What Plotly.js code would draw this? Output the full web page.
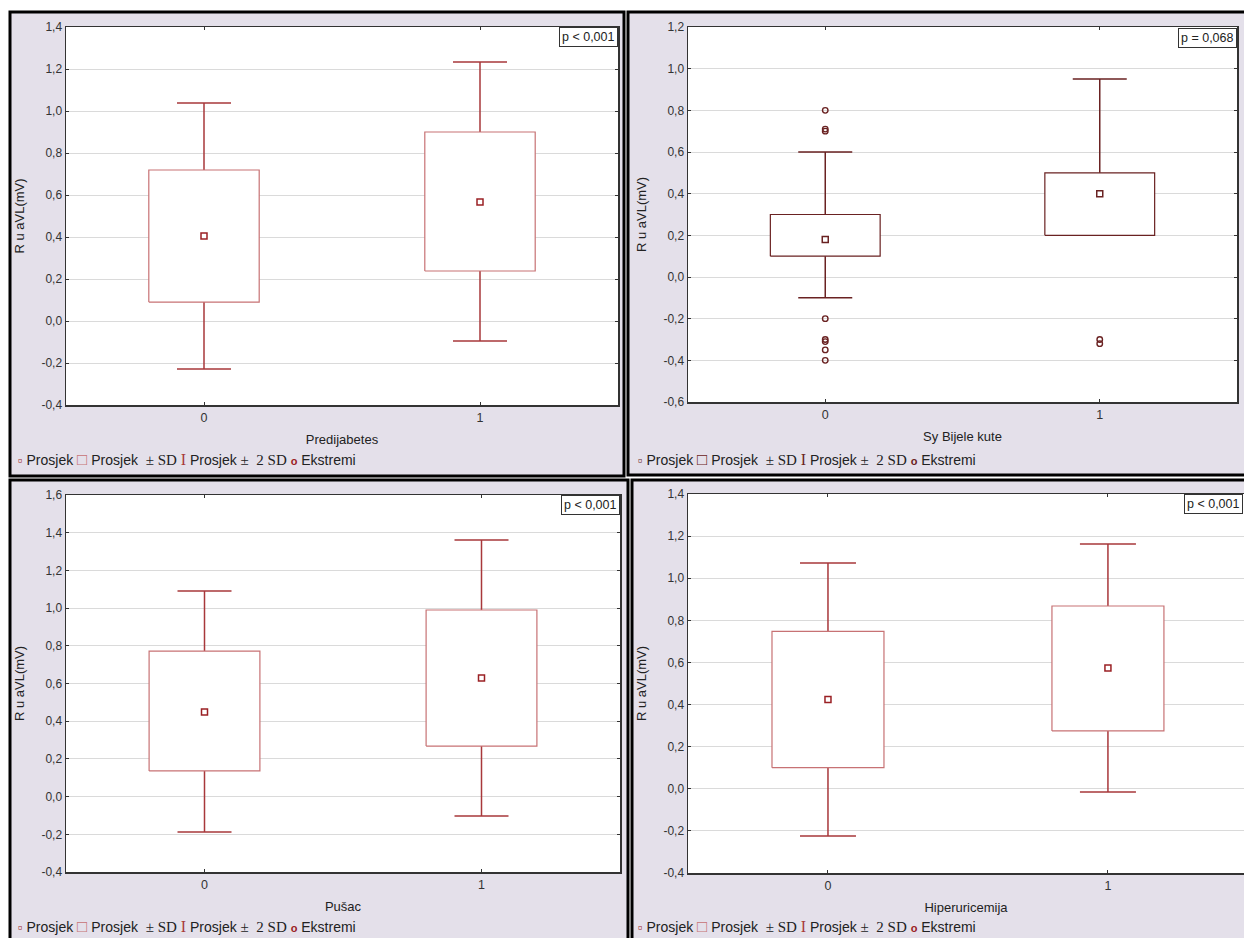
<!DOCTYPE html>
<html>
<head>
<meta charset="utf-8">
<script src="https://cdn.plot.ly/plotly-3.0.1.min.js"></script>
<style>html,body{margin:0;padding:0;background:#fff;}#chart{width:1244px;height:938px;}</style>
</head>
<body>
<div id="chart"></div>
<script>
// ---------------- DATA ----------------
const groups = [0, 1];
const groupLabels = ['0', '1'];

// Panel 1: Predijabetes
const p1Mean   = [0.405, 0.567];
const p1BoxLo  = [0.090, 0.238];
const p1BoxHi  = [0.719, 0.900];
const p1WhLo   = [-0.229, -0.095];
const p1WhHi   = [1.038, 1.233];

// Panel 2: Sy Bijele kute
const p2Mean   = [0.18, 0.40];
const p2BoxLo  = [0.10, 0.20];
const p2BoxHi  = [0.30, 0.50];
const p2WhLo   = [-0.10, 0.20];
const p2WhHi   = [0.60, 0.95];
const p2OutX   = [0, 0, 0, 0, 0, 0, 0, 0, 1, 1];
const p2OutY   = [0.80, 0.71, 0.70, -0.20, -0.30, -0.31, -0.35, -0.40, -0.30, -0.32];

// Panel 3: Pušac
const p3Mean   = [0.449, 0.629];
const p3BoxLo  = [0.136, 0.268];
const p3BoxHi  = [0.772, 0.990];
const p3WhLo   = [-0.188, -0.103];
const p3WhHi   = [1.091, 1.361];

// Panel 4: Hiperuricemija
const p4Mean   = [0.424, 0.574];
const p4BoxLo  = [0.100, 0.275];
const p4BoxHi  = [0.748, 0.868];
const p4WhLo   = [-0.224, -0.015];
const p4WhHi   = [1.072, 1.163];

const yTicks1 = [-0.4, -0.2, 0.0, 0.2, 0.4, 0.6, 0.8, 1.0, 1.2, 1.4];
const yTicks2 = [-0.6, -0.4, -0.2, 0.0, 0.2, 0.4, 0.6, 0.8, 1.0, 1.2];
const yTicks3 = [-0.4, -0.2, 0.0, 0.2, 0.4, 0.6, 0.8, 1.0, 1.2, 1.4, 1.6];
const yTicks4 = [-0.4, -0.2, 0.0, 0.2, 0.4, 0.6, 0.8, 1.0, 1.2, 1.4];

const xTitles = ['Predijabetes', 'Sy Bijele kute', 'Pušac', 'Hiperuricemija'];
const yTitle = 'R u aVL(mV)';
const pTexts = ['p < 0,001', 'p = 0,068', 'p < 0,001', 'p < 0,001'];

// ---------------- LAYOUT HELPERS ----------------
const W = 1244, H = 938;
const fx = v => v / W;
const fy = v => 1 - v / H;
const FONT = 'Liberation Sans, Arial, sans-serif';
const fmt = v => v.toFixed(1).replace('.', ',');

const panels = [
  {frame:[10,12,624,476], plot:[66,27,618,405], xr:[-0.5,1.5], yr:[-0.4,1.4], ticks:yTicks1,
   d:{m:p1Mean,lo:p1BoxLo,hi:p1BoxHi,wl:p1WhLo,wh:p1WhHi}, whColor:'#a8383b', boxColor:'#c77274', meanColor:'#9a2024',
   capW:27, legX:16, legY:460, p:[618,27], mirrorY:'ticks'},
  {frame:[628,12,1260,475], plot:[688,27,1237,402], xr:[-0.5,1.5], yr:[-0.6,1.2], ticks:yTicks2,
   d:{m:p2Mean,lo:p2BoxLo,hi:p2BoxHi,wl:p2WhLo,wh:p2WhHi}, whColor:'#6a2222', boxColor:'#6a2222', meanColor:'#6a2222',
   capW:27, legX:636, legY:459, p:[1237,28], mirrorY:'ticks', outX:p2OutX, outY:p2OutY},
  {frame:[10,480,628,950], plot:[66,495,620,872], xr:[-0.5,1.5], yr:[-0.4,1.6], ticks:yTicks3,
   d:{m:p3Mean,lo:p3BoxLo,hi:p3BoxHi,wl:p3WhLo,wh:p3WhHi}, whColor:'#a8383b', boxColor:'#c77274', meanColor:'#9a2024',
   capW:27, legX:16, legY:926, p:[620,495], mirrorY:'ticks'},
  {frame:[632,480,1260,950], plot:[688,494,1244,873], xr:[-0.5,1.486], yr:[-0.4,1.4], ticks:yTicks4,
   d:{m:p4Mean,lo:p4BoxLo,hi:p4BoxHi,wl:p4WhLo,wh:p4WhHi}, whColor:'#a8383b', boxColor:'#c77274', meanColor:'#9a2024',
   capW:28, legX:636, legY:926, p:[1243,494], mirrorY:false}
];

const traces = [];
const shapes = [];
const annotations = [];
const layout = {
  width: W, height: H,
  margin: {l:0, r:0, t:0, b:0},
  paper_bgcolor: '#ffffff',
  plot_bgcolor: '#ffffff',
  showlegend: false,
  hovermode: false,
  separators: ', ',
  font: {family: FONT, size: 12, color: '#333'}
};

const NB = '&nbsp;';

panels.forEach((P, i) => {
  const n = i + 1;
  const xa = 'x' + (n === 1 ? '' : n), ya = 'y' + (n === 1 ? '' : n);
  const xKey = 'xaxis' + (n === 1 ? '' : n), yKey = 'yaxis' + (n === 1 ? '' : n);

  // panel background + frame
  shapes.push({type:'rect', xref:'paper', yref:'paper', layer:'below',
    x0:fx(P.frame[0]), x1:fx(P.frame[2]), y0:fy(P.frame[3]), y1:fy(P.frame[1]),
    fillcolor:'#e4e0ea', line:{color:'#000', width:3}});
  // white plotting area
  shapes.push({type:'rect', xref:'paper', yref:'paper', layer:'below',
    x0:fx(P.plot[0]), x1:fx(P.plot[2]), y0:fy(P.plot[3]), y1:fy(P.plot[1]),
    fillcolor:'#ffffff', line:{width:0}});

  layout[xKey] = {
    domain:[fx(P.plot[0]), Math.min(1, fx(P.plot[2]))], range:P.xr, anchor:ya,
    tickvals:groups, ticktext:groupLabels, ticks:'inside', ticklen:3, tickcolor:'#333',
    showline:true, linecolor:'#333', linewidth:1.5, mirror:'ticks', showgrid:false, zeroline:false,
    tickfont:{family:FONT, size:12.5, color:'#333'},
    title:{text:xTitles[i], font:{family:FONT, size:13, color:'#222'}, standoff:11}
  };
  layout[yKey] = {
    domain:[fy(P.plot[3]), fy(P.plot[1])], range:P.yr, anchor:xa,
    tickvals:P.ticks, ticktext:P.ticks.map(fmt), ticks:'inside', ticklen:3, tickcolor:'#333',
    showline:true, linecolor:'#333', linewidth:1.5, mirror:P.mirrorY, showgrid:true, gridcolor:'#dadada', gridwidth:1,
    zeroline:false, tickfont:{family:FONT, size:12, color:'#333'},
    title:{text:yTitle, font:{family:FONT, size:13, color:'#222'}, standoff:14}
  };

  const d = P.d;
  // whiskers (mean ± 2 SD) as error bars
  traces.push({type:'scatter', mode:'markers', x:groups, y:d.m, xaxis:xa, yaxis:ya,
    marker:{size:2, color:'rgba(0,0,0,0)'},
    error_y:{type:'data', symmetric:false,
      array:d.m.map((m,k)=>d.wh[k]-m), arrayminus:d.m.map((m,k)=>m-d.wl[k]),
      color:P.whColor, thickness:1.5, width:P.capW}});
  // boxes (mean ± SD)
  const bx = [], by = [], hw = 0.2;
  groups.forEach((g,k) => {
    bx.push(g-hw, g+hw, g+hw, g-hw, g-hw, null);
    by.push(d.lo[k], d.lo[k], d.hi[k], d.hi[k], d.lo[k], null);
  });
  traces.push({type:'scatter', mode:'lines', x:bx, y:by, xaxis:xa, yaxis:ya,
    fill:'toself', fillcolor:'#ffffff', line:{color:P.boxColor, width:1.2}});
  // mean markers
  traces.push({type:'scatter', mode:'markers', x:groups, y:d.m, xaxis:xa, yaxis:ya,
    marker:{symbol:'square-open', size:6, color:P.meanColor, line:{width:1.5, color:P.meanColor}}});
  // extremes
  if (P.outX) {
    traces.push({type:'scatter', mode:'markers', x:P.outX, y:P.outY, xaxis:xa, yaxis:ya,
      marker:{symbol:'circle-open', size:5.5, color:P.meanColor, line:{width:1.4, color:P.meanColor}}});
  }

  // p-value box
  annotations.push({xref:'paper', yref:'paper', x:fx(P.p[0]), y:fy(P.p[1]), xanchor:'right', yanchor:'top',
    text:pTexts[i], showarrow:false, bgcolor:'#ffffff', bordercolor:'#333', borderwidth:1, borderpad:2,
    font:{family:FONT, size:12.5, color:'#222'}});

  // legend row
  const serif = 'font-family:Liberation Serif, Times New Roman, serif;font-size:15px';
  const leg =
    `<span style="color:${P.meanColor};font-size:13px">▫</span> Prosjek ` +
    `<span style="color:${P.boxColor};font-size:17px">□</span> Prosjek${NB}${NB}<span style="${serif}">±${NB}SD</span> ` +
    `<span style="color:${P.whColor};${serif};font-size:16px">I</span> Prosjek${NB}<span style="${serif}">±${NB}${NB}2${NB}SD</span> ` +
    `<span style="color:${P.meanColor};font-size:11px;font-weight:bold">o</span> Ekstremi`;
  annotations.push({xref:'paper', yref:'paper', x:fx(P.legX), y:fy(P.legY), xanchor:'left', yanchor:'middle',
    text:leg, showarrow:false, font:{family:FONT, size:14, color:'#222'}});
});

layout.shapes = shapes;
layout.annotations = annotations;

Plotly.newPlot('chart', traces, layout, {staticPlot:true, displayModeBar:false});
</script>
</body>
</html>
